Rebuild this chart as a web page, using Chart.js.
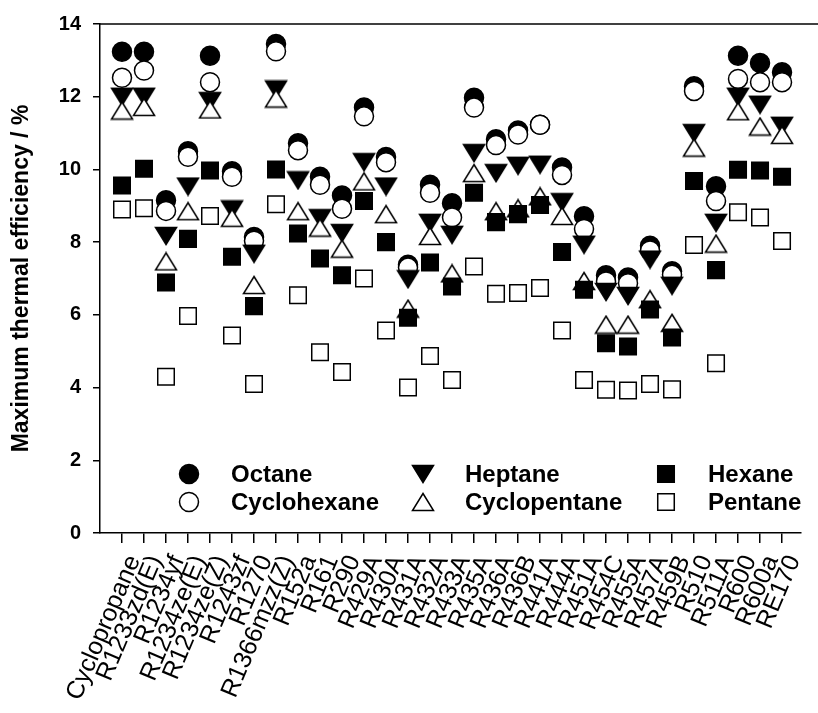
<!DOCTYPE html>
<html>
<head>
<meta charset="utf-8">
<script src="https://cdn.jsdelivr.net/npm/chart.js@4.4.1/dist/chart.umd.min.js"></script>
<style>
  html, body { margin: 0; padding: 0; background: #fff; }
  canvas { display: block; }
</style>
</head>
<body>
<canvas id="chart" width="818" height="713"></canvas>
<script>
// Working fluids (x axis) and maximum thermal efficiency (%) for each heat-source fluid
const fluids = ['Cyclopropane', 'R1233zd(E)', 'R1234yf', 'R1234ze(E)', 'R1234ze(Z)', 'R1243zf', 'R1270',
  'R1366mzz(Z)', 'R152a', 'R161', 'R290', 'R429A', 'R430A', 'R431A', 'R432A', 'R433A', 'R435A', 'R436A',
  'R436B', 'R441A', 'R444A', 'R451A', 'R454C', 'R455A', 'R457A', 'R459B', 'R510', 'R511A', 'R600', 'R600a', 'RE170'];

const octane = [13.24, 13.24, 9.15, 10.5, 13.13, 9.95, 8.14, 13.45, 10.72, 9.8, 9.28, 11.7, 10.34, 7.38, 9.58, 9.07,
  11.97, 10.83, 11.07, 11.23, 10.05, 8.71, 7.09, 7.03, 7.9, 7.2, 12.29, 9.54, 13.13, 12.93, 12.67];
const cyclohexane = [12.52, 12.72, 8.86, 10.35, 12.4, 9.8, 8.04, 13.25, 10.53, 9.58, 8.92, 11.46, 10.2, 7.3, 9.36, 8.68,
  11.7, 10.67, 10.96, 11.23, 9.85, 8.36, 6.92, 6.87, 7.77, 7.1, 12.16, 9.13, 12.49, 12.4, 12.4];
const heptane = [12.0, 12.0, 8.17, 9.53, 11.88, 8.9, 7.68, 12.2, 9.7, 8.66, 8.25, 10.2, 9.53, 6.98, 8.53, 8.2,
  10.45, 9.9, 10.1, 10.13, 9.1, 7.93, 6.63, 6.52, 7.52, 6.8, 11.0, 8.53, 12.0, 11.78, 11.2];
const cyclopentane = [11.62, 11.72, 7.47, 8.85, 11.65, 8.67, 6.82, 11.95, 8.85, 8.4, 7.82, 9.67, 8.77, 6.17, 8.17, 7.14,
  9.9, 8.85, 8.93, 9.26, 8.72, 6.93, 5.73, 5.73, 6.43, 5.78, 10.6, 7.96, 11.6, 11.18, 10.95];
const hexane = [9.56, 10.02, 6.89, 8.09, 9.97, 7.6, 6.24, 10.0, 8.24, 7.55, 7.09, 9.13, 8.0, 5.92, 7.44, 6.78,
  9.36, 8.55, 8.77, 9.02, 7.73, 6.69, 5.22, 5.13, 6.15, 5.38, 9.68, 7.23, 9.99, 9.97, 9.8];
const pentane = [8.9, 8.93, 4.3, 5.97, 8.72, 5.43, 4.1, 9.04, 6.54, 4.97, 4.43, 7.0, 5.57, 4.0, 4.87, 4.21,
  7.33, 6.58, 6.6, 6.74, 5.57, 4.21, 3.94, 3.92, 4.1, 3.95, 7.92, 4.67, 8.82, 8.68, 8.03];

const yTicks = [0, 2, 4, 6, 8, 10, 12, 14];

const FONT = '"Liberation Sans", Arial, Helvetica, sans-serif';

// Triangle symbols, centred on their bounding box
function triangle(down, filled) {
  const c = document.createElement('canvas');
  c.width = 24; c.height = 20;
  const g = c.getContext('2d');
  g.beginPath();
  if (down) {
    g.moveTo(1.5, 1.5); g.lineTo(22.5, 1.5); g.lineTo(12, 18.5);
  } else {
    g.moveTo(12, 1.5); g.lineTo(22.5, 18.5); g.lineTo(1.5, 18.5);
  }
  g.closePath();
  g.fillStyle = filled ? '#000' : '#fff';
  g.fill();
  g.lineWidth = 1.5;
  g.lineJoin = 'miter';
  g.strokeStyle = '#000';
  g.stroke();
  return c;
}
const triDown = triangle(true, true);
const triUpOpen = triangle(false, false);

const toPoints = arr => arr.map((v, i) => ({ x: i + 1, y: v }));

const series = [
  { label: 'Octane', values: octane, style: 'circle', fill: '#000', radius: 9.5, order: 6 },
  { label: 'Cyclohexane', values: cyclohexane, style: 'circle', fill: '#fff', radius: 9.5, order: 5 },
  { label: 'Heptane', values: heptane, style: triDown, fill: '#000', radius: 10, order: 4 },
  { label: 'Cyclopentane', values: cyclopentane, style: triUpOpen, fill: '#fff', radius: 10, order: 3 },
  { label: 'Hexane', values: hexane, style: 'rect', fill: '#000', radius: 11.7, order: 2 },
  { label: 'Pentane', values: pentane, style: 'rect', fill: '#fff', radius: 11.7, order: 1 }
];

// In-plot legend: three columns of two entries
const legendLayout = [
  { col: 0, row: 0 }, { col: 0, row: 1 },
  { col: 1, row: 0 }, { col: 1, row: 1 },
  { col: 2, row: 0 }, { col: 2, row: 1 }
];
const legendCols = [89, 323, 566];
const legendRowsFromBottom = [59, 31];

const insideLegend = {
  id: 'insideLegend',
  afterDatasetsDraw(chart) {
    const { ctx, chartArea } = chart;
    ctx.save();
    series.forEach((s, i) => {
      const pos = legendLayout[i];
      const mx = chartArea.left + legendCols[pos.col];
      const my = chartArea.bottom - legendRowsFromBottom[pos.row];
      ctx.lineWidth = 1.5;
      ctx.strokeStyle = '#000';
      ctx.fillStyle = s.fill;
      if (s.style === 'circle') {
        ctx.beginPath();
        ctx.arc(mx, my, s.radius, 0, Math.PI * 2);
        ctx.fill(); ctx.stroke();
      } else if (s.style === 'rect') {
        const h = Math.SQRT1_2 * s.radius;
        ctx.beginPath();
        ctx.rect(mx - h, my - h, 2 * h, 2 * h);
        ctx.fill(); ctx.stroke();
      } else {
        ctx.drawImage(s.style, mx - s.style.width / 2, my - s.style.height / 2);
      }
      ctx.fillStyle = '#000';
      ctx.font = 'bold 24px ' + FONT;
      ctx.textAlign = 'left';
      ctx.textBaseline = 'middle';
      ctx.fillText(s.label, mx + 42, my + 1);
    });
    ctx.restore();
  }
};

// Upper frame line of the plot
const topFrame = {
  id: 'topFrame',
  afterDraw(chart) {
    const { ctx, chartArea } = chart;
    ctx.save();
    ctx.strokeStyle = '#000';
    ctx.lineWidth = 1.5;
    ctx.beginPath();
    ctx.moveTo(chartArea.left, chartArea.top);
    ctx.lineTo(chart.width, chartArea.top);
    ctx.stroke();
    ctx.restore();
  }
};

new Chart(document.getElementById('chart'), {
  type: 'scatter',
  data: {
    datasets: series.map(s => ({
      label: s.label,
      data: toPoints(s.values),
      pointStyle: s.style,
      pointRadius: s.radius,
      pointHoverRadius: s.radius,
      backgroundColor: s.fill,
      borderColor: '#000',
      borderWidth: 1.5,
      showLine: false,
      order: s.order
    }))
  },
  options: {
    responsive: false,
    animation: false,
    devicePixelRatio: 1,
    layout: { padding: { top: 17, right: 0, bottom: 0, left: 0 } },
    plugins: {
      legend: { display: false },
      tooltip: { enabled: false }
    },
    scales: {
      x: {
        type: 'linear',
        min: 0,
        max: 31.87,
        afterBuildTicks: scale => { scale.ticks = fluids.map((_, i) => ({ value: i + 1 })); },
        afterFit: scale => { scale.height = 180; },
        ticks: {
          autoSkip: false,
          minRotation: 67,
          maxRotation: 67,
          padding: 8,
          labelOffset: 12,
          color: '#000',
          font: { family: FONT, size: 25 },
          callback: v => fluids[Math.round(v) - 1]
        },
        grid: { drawOnChartArea: false, drawTicks: true, tickLength: 10, color: '#000', lineWidth: 1.5 },
        border: { display: true, color: '#000', width: 1.5 }
      },
      y: {
        min: 0,
        max: 14,
        afterBuildTicks: scale => { scale.ticks = yTicks.map(v => ({ value: v })); },
        afterFit: scale => { scale.width = 100; },
        ticks: {
          padding: 12,
          color: '#000',
          font: { family: FONT, size: 20, weight: 'bold' }
        },
        grid: { drawOnChartArea: false, drawTicks: true, tickLength: 7, color: '#000', lineWidth: 1.5 },
        border: { display: true, color: '#000', width: 1.5 },
        title: {
          display: true,
          text: 'Maximum thermal efficiency / %',
          color: '#000',
          font: { family: FONT, size: 23, weight: 'bold' },
          padding: { top: 8, bottom: 0 }
        }
      }
    }
  },
  plugins: [insideLegend, topFrame]
});
</script>
</body>
</html>
